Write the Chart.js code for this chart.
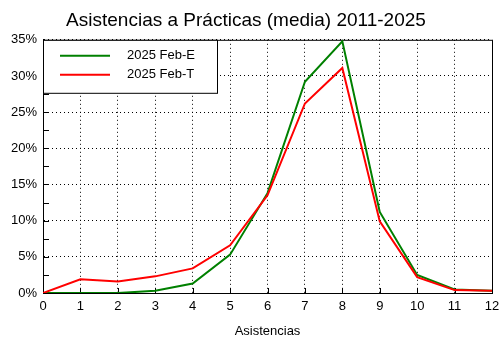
<!DOCTYPE html>
<html>
<head>
<meta charset="utf-8">
<script src="https://cdn.jsdelivr.net/npm/chart.js@4/dist/chart.umd.min.js"></script>
<style>
  html, body { margin: 0; padding: 0; background: #fff; }
  #wrap { width: 500px; height: 350px; }
</style>
</head>
<body>
<div id="wrap"><canvas id="chart" width="500" height="350"></canvas></div>
<script>
const asistencias = [0, 1, 2, 3, 4, 5, 6, 7, 8, 9, 10, 11, 12];
const febE = [0, 0, 0, 0.3, 1.3, 5.3, 13.8, 29.2, 34.8, 11.2, 2.5, 0.5, 0.3];
const febT = [0, 1.9, 1.6, 2.3, 3.4, 6.6, 13.5, 26.2, 31.1, 9.9, 2.2, 0.4, 0.3];
const seriesLabels = ['2025 Feb-E', '2025 Feb-T'];
const seriesColors = ['#008000', '#ff0000'];

Chart.defaults.font.family = "'Liberation Sans', Arial, sans-serif";
Chart.defaults.color = '#000';

function toPoints(values) {
	return values.map((v, i) => ({ x: asistencias[i], y: v }));
}

// frame, inner tick marks and the boxed legend in the top-left corner
const frame = {
	id: 'frame',
	beforeDatasetsDraw(chart) {
		const { ctx, chartArea: a, scales } = chart;
		ctx.save();
		ctx.strokeStyle = '#000';
		ctx.lineWidth = 1;
		ctx.beginPath();
		ctx.moveTo(a.left + 0.5, a.top + 0.5);
		ctx.lineTo(a.right + 0.5, a.top + 0.5);
		ctx.lineTo(a.right + 0.5, a.bottom + 0.5);
		for (let v = 0; v <= 35; v += 2.5) {
			const y = Math.round(scales.y.getPixelForValue(v)) + 0.5;
			ctx.moveTo(a.left, y);
			ctx.lineTo(a.left + 6, y);
		}
		for (let v = 0; v <= 12; v += 1) {
			const x = Math.round(scales.x.getPixelForValue(v)) + 0.5;
			ctx.moveTo(x, a.bottom);
			ctx.lineTo(x, a.bottom - 5);
		}
		ctx.stroke();
		ctx.restore();
	},
	afterDatasetsDraw(chart) {
		const { ctx, chartArea: a } = chart;
		const x0 = a.left + 0.5, y0 = a.top + 0.5;
		ctx.save();
		ctx.fillStyle = '#fff';
		ctx.fillRect(x0, y0, 174, 53);
		ctx.strokeStyle = '#000';
		ctx.lineWidth = 1;
		ctx.strokeRect(x0, y0, 174, 53);
		ctx.font = "13px 'Liberation Sans', Arial, sans-serif";
		ctx.textBaseline = 'middle';
		ctx.textAlign = 'left';
		chart.data.datasets.forEach((ds, i) => {
			const y = a.top + 16 + i * 19;
			ctx.strokeStyle = ds.borderColor;
			ctx.lineWidth = 2;
			ctx.beginPath();
			ctx.moveTo(a.left + 17, y);
			ctx.lineTo(a.left + 67, y);
			ctx.stroke();
			ctx.fillStyle = '#000';
			ctx.fillText(ds.label, a.left + 84, y);
		});
		ctx.restore();
	}
};

new Chart(document.getElementById('chart'), {
	type: 'line',
	data: {
		datasets: [
			{
				label: seriesLabels[0],
				data: toPoints(febE),
				borderColor: seriesColors[0],
				borderWidth: 2,
				pointRadius: 0,
				tension: 0,
				order: 1
			},
			{
				label: seriesLabels[1],
				data: toPoints(febT),
				borderColor: seriesColors[1],
				borderWidth: 2,
				pointRadius: 0,
				tension: 0,
				order: 0
			}
		]
	},
	options: {
		responsive: false,
		animation: false,
		layout: { padding: { right: 8 } },
		plugins: {
			legend: { display: false },
			tooltip: { enabled: false },
			title: {
				display: true,
				text: 'Asistencias a Prácticas (media) 2011-2025',
				font: { size: 19, weight: 'normal' },
				color: '#000',
				padding: { top: 9, bottom: 8 }
			}
		},
		scales: {
			x: {
				type: 'linear',
				min: 0,
				max: 12,
				ticks: { stepSize: 1, font: { size: 13 }, padding: 6, maxRotation: 0 },
				grid: { color: '#000', drawTicks: false },
				border: { color: '#000', dash: [1, 3] },
				title: {
					display: true,
					text: 'Asistencias',
					font: { size: 13 },
					padding: { top: 0, bottom: 11 }
				},
				afterFit(scale) {
					scale.height = 57;
					scale.paddingLeft = 0;
					scale.paddingRight = 0;
				}
			},
			y: {
				min: 0,
				max: 35,
				ticks: {
					stepSize: 5,
					font: { size: 13 },
					padding: 6,
					callback: v => v + '%'
				},
				grid: { color: '#000', drawTicks: false },
				border: { color: '#000', dash: [1, 3] },
				afterFit(scale) {
					scale.width = 43;
					scale.paddingTop = 0;
					scale.paddingBottom = 0;
				}
			}
		}
	},
	plugins: [frame]
});
</script>
</body>
</html>
